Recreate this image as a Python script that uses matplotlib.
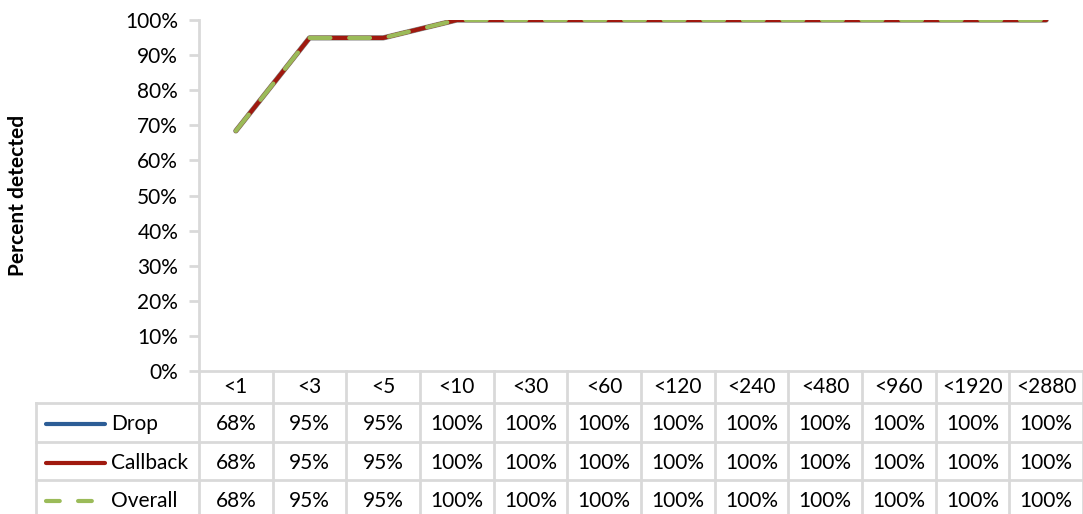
import matplotlib
matplotlib.use("Agg")
import matplotlib.pyplot as plt
from matplotlib.transforms import blended_transform_factory
from matplotlib.ticker import FuncFormatter
import matplotlib.patheffects as pe

categories = ["<1", "<3", "<5", "<10", "<30", "<60", "<120", "<240", "<480", "<960", "<1920", "<2880"]
drop = [0.684, 0.949, 0.949, 1.0, 1.0, 1.0, 1.0, 1.0, 1.0, 1.0, 1.0, 1.0]
callback = [0.684, 0.949, 0.949, 1.0, 1.0, 1.0, 1.0, 1.0, 1.0, 1.0, 1.0, 1.0]
overall = [0.684, 0.949, 0.949, 1.0, 1.0, 1.0, 1.0, 1.0, 1.0, 1.0, 1.0, 1.0]
series_names = ["Drop", "Callback", "Overall"]
yticks = [0, 0.1, 0.2, 0.3, 0.4, 0.5, 0.6, 0.7, 0.8, 0.9, 1.0]

plt.rcParams['font.family'] = ['Lato', 'DejaVu Sans']

W, H = 1083, 514
fig = plt.figure(figsize=(W / 100, H / 100), dpi=100)

def fy(ypix):
    return 1 - ypix / H

def fx(xpix):
    return xpix / W

FS = 15
ax_left, ax_right, ax_top, ax_bottom = 199, 1083, 20, 371
ax = fig.add_axes([fx(ax_left), fy(ax_bottom), fx(ax_right - ax_left), (ax_bottom - ax_top) / H])

grid_col = "#d9d9d9"
blue, red, green = "#2c5d96", "#a0190f", "#9bbb59"
x = list(range(len(categories)))
ax.plot(x, drop, color=blue, lw=3, solid_capstyle="round", zorder=3)
ax.plot(x, callback, color=red, lw=3, solid_capstyle="round", zorder=4,
        path_effects=[pe.Stroke(linewidth=3.8, foreground="#8a8a8a"), pe.Normal()])
ax.plot(x, overall, color=green, lw=3, dashes=(5.0, 4.5), dash_capstyle="round", zorder=5)

ax.set_xlim(-0.5, len(categories) - 0.5)
ax.set_ylim(0, 1)
ax.set_yticks(yticks)
ax.yaxis.set_major_formatter(FuncFormatter(lambda v, p: f"{round(v * 100):d}%"))
ax.set_xticks([])
for s in ["top", "right", "bottom"]:
    ax.spines[s].set_visible(False)
ax.spines["left"].set_color(grid_col)
ax.spines["left"].set_linewidth(2)
ax.tick_params(axis="y", length=7, width=2, color=grid_col, labelsize=FS, pad=8, labelcolor="#000000")
ax.set_ylabel("Percent detected", fontsize=15, fontweight="bold")
axw = ax_right - ax_left
ax.yaxis.set_label_coords((28 - ax_left) / axw, 0.5)

# data table
tr = blended_transform_factory(ax.transData, fig.transFigure)
trf = fig.transFigure
row_lines = [402.5, 442, 480]
row_centers = [387, 424, 463, 501]
table_left = 36
lw_t = 2

fig.add_artist(plt.Line2D([fx(ax_left), 1], [fy(ax_bottom), fy(ax_bottom)], transform=trf, color=grid_col, lw=lw_t))
for yl in row_lines:
    fig.add_artist(plt.Line2D([fx(table_left), 1], [fy(yl), fy(yl)], transform=trf, color=grid_col, lw=lw_t))
fig.add_artist(plt.Line2D([fx(table_left), fx(table_left)], [fy(row_lines[0]), 0], transform=trf, color=grid_col, lw=lw_t))
for i in range(len(categories) + 1):
    xb = i - 0.5
    fig.add_artist(plt.Line2D([xb, xb], [fy(ax_bottom), 0], transform=tr, color=grid_col, lw=lw_t))

for i, c in enumerate(categories):
    fig.text(i, fy(row_centers[0]), c, transform=tr, ha="center", va="center", fontsize=FS)

series = [drop, callback, overall]
for r, (name, vals) in enumerate(zip(series_names, series)):
    yc = fy(row_centers[r + 1])
    for i, v in enumerate(vals):
        fig.text(i, yc, f"{round(v * 100):d}%", transform=tr, ha="center", va="center", fontsize=FS)
    fig.text(fx(111), yc, name, transform=trf, ha="left", va="center", fontsize=FS)

k0, k1 = fx(46), fx(105)
fig.add_artist(plt.Line2D([k0, k1], [fy(row_centers[1])] * 2, transform=trf, color=blue, lw=3, solid_capstyle="round"))
fig.add_artist(plt.Line2D([k0, k1], [fy(row_centers[2])] * 2, transform=trf, color=red, lw=3, solid_capstyle="round"))
fig.add_artist(plt.Line2D([fx(46), fx(93)], [fy(row_centers[3])] * 2, transform=trf, color=green, lw=3, dashes=(3.3, 4.4), dash_capstyle="round"))

fig.savefig("out.png", dpi=100)
